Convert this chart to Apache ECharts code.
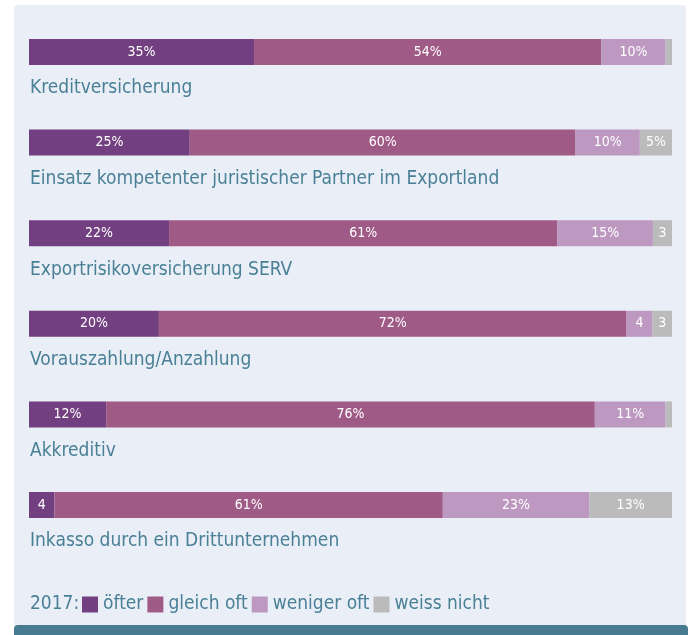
<!DOCTYPE html>
<html>
<head>
<meta charset="utf-8">
<script src="https://cdn.jsdelivr.net/npm/echarts@6/dist/echarts.min.js"></script>
<style>
  html, body { margin: 0; padding: 0; background: #fff; }
  #chart { width: 691px; height: 635px; }
</style>
</head>
<body>
<div id="chart"></div>
<script>
// Kategorien und Werte (in %)
const categories = [
  "Kreditversicherung",
  "Einsatz kompetenter juristischer Partner im Exportland",
  "Exportrisikoversicherung SERV",
  "Vorauszahlung/Anzahlung",
  "Akkreditiv",
  "Inkasso durch ein Drittunternehmen"
];
const seriesNames = ["öfter", "gleich oft", "weniger oft", "weiss nicht"];
const oefter = [35, 25, 22, 20, 12, 4];
const gleichOft = [54, 60, 61, 72, 76, 61];
const wenigerOft = [10, 10, 15, 4, 11, 23];
const weissNicht = [1, 5, 3, 3, 1, 13];
const legendPrefix = "2017:";

const colors = ["#723f80", "#a05a86", "#bd99c2", "#bbbbbb"];
const textColor = "#4a8096";
const fontFamily = "DejaVu Sans Condensed";

const chart = echarts.init(document.getElementById("chart"));

const values = [oefter, gleichOft, wenigerOft, weissNicht];
const plotLeft = 29, plotRight = 19, plotWidth = 691 - plotLeft - plotRight;
const rowTop = 39, rowStep = 90.6, barH = 26;

const grids = [], xAxes = [], yAxes = [], series = [], titles = [];

categories.forEach((cat, i) => {
  const total = values.reduce((s, arr) => s + arr[i], 0);
  const top = rowTop + i * rowStep;
  grids.push({ left: plotLeft, right: plotRight, top: top, height: barH });
  // Skala je Zeile bis zur Zeilensumme, damit jede Zeile die volle Breite füllt
  xAxes.push({ gridIndex: i, type: "value", min: 0, max: total, show: false });
  yAxes.push({ gridIndex: i, type: "category", data: [cat], show: false });
  titles.push({
    text: cat,
    left: plotLeft + 1,
    top: top + barH + 14,
    padding: 0,
    textStyle: { color: textColor, fontSize: 19, fontWeight: "normal", fontFamily: fontFamily }
  });
  values.forEach((arr, k) => {
    series.push({
      name: seriesNames[k],
      type: "bar",
      stack: "row" + i,
      xAxisIndex: i,
      yAxisIndex: i,
      barWidth: "100%",
      data: [arr[i]],
      itemStyle: { color: colors[k] },
      label: {
        show: true,
        position: "inside",
        color: "#fff",
        fontSize: 14,
        fontFamily: fontFamily,
        formatter: (p) => {
          const w = p.value / total * plotWidth;
          if (w < 8) return "";
          return p.value >= 5 ? p.value + "%" : String(p.value);
        }
      },
      emphasis: { disabled: true }
    });
  });
});

titles.push({
  text: legendPrefix,
  left: plotLeft + 1,
  top: 595,
  padding: 0,
  textStyle: { color: textColor, fontSize: 19, fontWeight: "normal", fontFamily: fontFamily }
});

const options = {
  animation: false,
  graphic: [
    // Panel-Hintergrund
    { type: "rect", z: -10, shape: { x: 14, y: 5, width: 672, height: 626, r: 4 }, style: { fill: "#eaeff7" } },
    // Fussleiste
    { type: "rect", z: -9, shape: { x: 14, y: 625, width: 674, height: 20, r: 4 }, style: { fill: "#477b91" } }
  ],
  title: titles,
  legend: {
    data: seriesNames,
    left: 82,
    top: 595,
    icon: "rect",
    itemWidth: 16,
    itemHeight: 16,
    itemGap: 4,
    padding: 0,
    selectedMode: false,
    textStyle: { color: textColor, fontSize: 19, fontFamily: fontFamily }
  },
  grid: grids,
  xAxis: xAxes,
  yAxis: yAxes,
  series: series
};

chart.setOption(options);
</script>
</body>
</html>
